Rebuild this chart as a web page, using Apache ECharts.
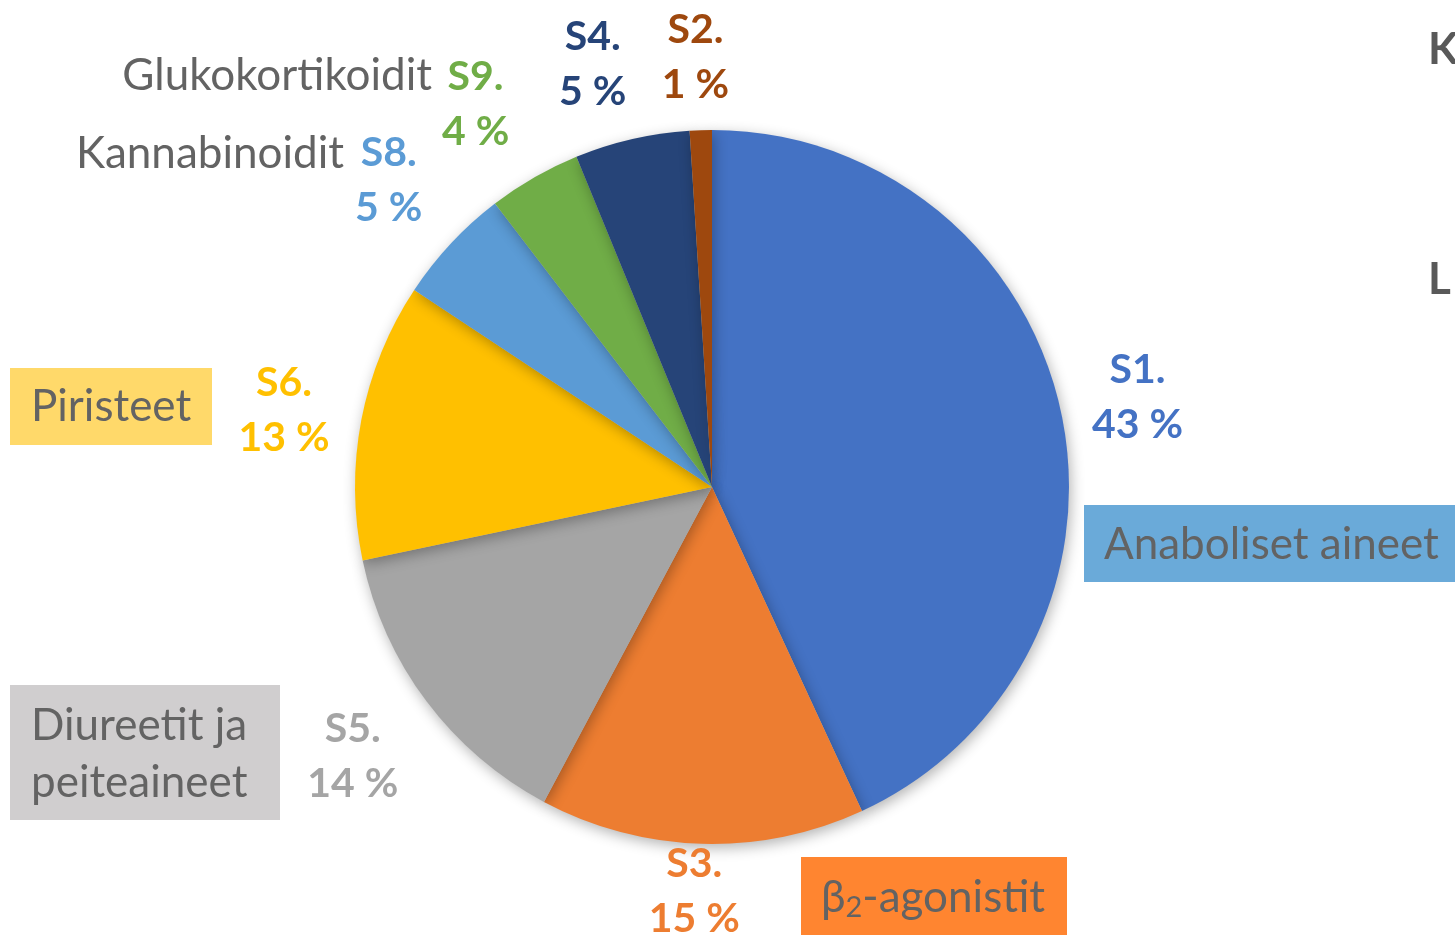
<!DOCTYPE html>
<html>
<head>
<meta charset="utf-8">
<script src="https://cdn.jsdelivr.net/npm/echarts@6/dist/echarts.min.js"></script>
<style>
  html, body { margin: 0; padding: 0; background: #fff; }
  #main { width: 1455px; height: 936px; }
</style>
</head>
<body>
<div id="main"></div>
<script>
// data (clockwise from 12 o'clock)
const codes = ['S1.', 'S3.', 'S5.', 'S6.', 'S8.', 'S9.', 'S4.', 'S2.']
// slice sizes measured from the sector edges, labels show them rounded
const values = [43.1, 14.7, 13.9, 12.6, 5.3, 4.2, 5.2, 1.0]
const colors = ['#4472C4', '#ED7D31', '#A5A5A5', '#FFC000', '#5B9BD5', '#70AD47', '#264478', '#9E480E']
const names = ['Anaboliset aineet', 'β2-agonistit', 'Diureetit ja peiteaineet', 'Piristeet',
  'Kannabinoidit', 'Glukokortikoidit', 'S4', 'S2']

// geometry of the pie
const cx = 712
const cy = 487
const R = 357
// where each % label sits: multiple of the radius + small angle nudge (deg)
const labelDist = [1.218, 1.134, 1.258, 1.218, 1.249, 1.261, 1.23, 1.204]
const labelNudge = [0.5, 0.9, 0, -0.6, 0.5, -1.8, -2.8, -0.4]

const total = values.reduce((a, b) => a + b, 0)
const midAngles = []
let acc = 0
for (let i = 0; i < values.length; i++) {
  midAngles.push(((acc + values[i] / 2) / total) * Math.PI * 2 + labelNudge[i] * Math.PI / 180)
  acc += values[i]
}

var chartDom = document.getElementById('main')
var myChart = echarts.init(chartDom)
var option

const textGray = '#636363'
const font = 'Lato, "Open Sans", sans-serif'
const catFont = '44px ' + font

option = {
  backgroundColor: '#fff',
  animation: false,
  series: [
    {
      type: 'pie',
      center: [cx, cy],
      radius: R,
      startAngle: 90,
      clockwise: true,
      data: values.map((v, i) => ({
        value: v,
        name: codes[i],
        itemStyle: { color: colors[i] },
        label: { color: colors[i] }
      })),
      itemStyle: {
        shadowBlur: 14,
        shadowOffsetX: 2,
        shadowOffsetY: 4,
        shadowColor: 'rgba(0, 0, 0, 0.3)'
      },
      label: {
        show: true,
        position: 'outside',
        formatter: p => p.name + '\n' + Math.round(p.value) + ' %',
        fontFamily: font,
        fontWeight: 'bold',
        fontSize: 41,
        lineHeight: 55
      },
      labelLine: { show: false },
      labelLayout: function (params) {
        const i = params.dataIndex
        const a = midAngles[i]
        const d = R * labelDist[i]
        return {
          x: cx + d * Math.sin(a),
          y: cy - d * Math.cos(a),
          align: 'center',
          verticalAlign: 'middle'
        }
      }
    }
  ],
  graphic: [
    // category boxes
    { type: 'rect', shape: { x: 1084, y: 505, width: 400, height: 77 }, style: { fill: '#6AAAD9' } },
    { type: 'text', x: 1104, y: 545, style: { text: names[0], font: catFont, fill: textGray, verticalAlign: 'middle' } },
    { type: 'rect', shape: { x: 801, y: 857, width: 266, height: 78 }, style: { fill: '#FF8530' } },
    {
      type: 'text', x: 821, y: 898,
      style: {
        text: '{a|β}{s|2}{a|-agonistit}',
        fill: textGray,
        verticalAlign: 'middle',
        rich: {
          a: { fontSize: 44, fontFamily: font, color: textGray },
          s: { fontSize: 29, fontFamily: font, color: textGray, padding: [19, 0, 0, 0] }
        }
      }
    },
    { type: 'rect', shape: { x: 10, y: 685, width: 270, height: 135 }, style: { fill: '#D0CECF' } },
    { type: 'text', x: 31, y: 754, style: { text: 'Diureetit ja\npeiteaineet', font: catFont, lineHeight: 57, fill: textGray, verticalAlign: 'middle' } },
    { type: 'rect', shape: { x: 10, y: 368, width: 202, height: 77 }, style: { fill: '#FFD96A' } },
    { type: 'text', x: 31, y: 407, style: { text: names[3], font: catFont, fill: textGray, verticalAlign: 'middle' } },
    // plain names
    { type: 'text', x: 432, y: 76, style: { text: names[5], font: catFont, fill: textGray, align: 'right', verticalAlign: 'middle' } },
    { type: 'text', x: 344, y: 154, style: { text: names[4], font: catFont, fill: textGray, align: 'right', verticalAlign: 'middle' } },
    // cut-off text at the right edge
    { type: 'text', x: 1428, y: 50, style: { text: 'K', font: 'bold 44px ' + font, fill: '#595959', verticalAlign: 'middle' } },
    { type: 'text', x: 1428, y: 280, style: { text: 'L', font: 'bold 44px ' + font, fill: '#595959', verticalAlign: 'middle' } }
  ]
}

option && myChart.setOption(option)
</script>
</body>
</html>
